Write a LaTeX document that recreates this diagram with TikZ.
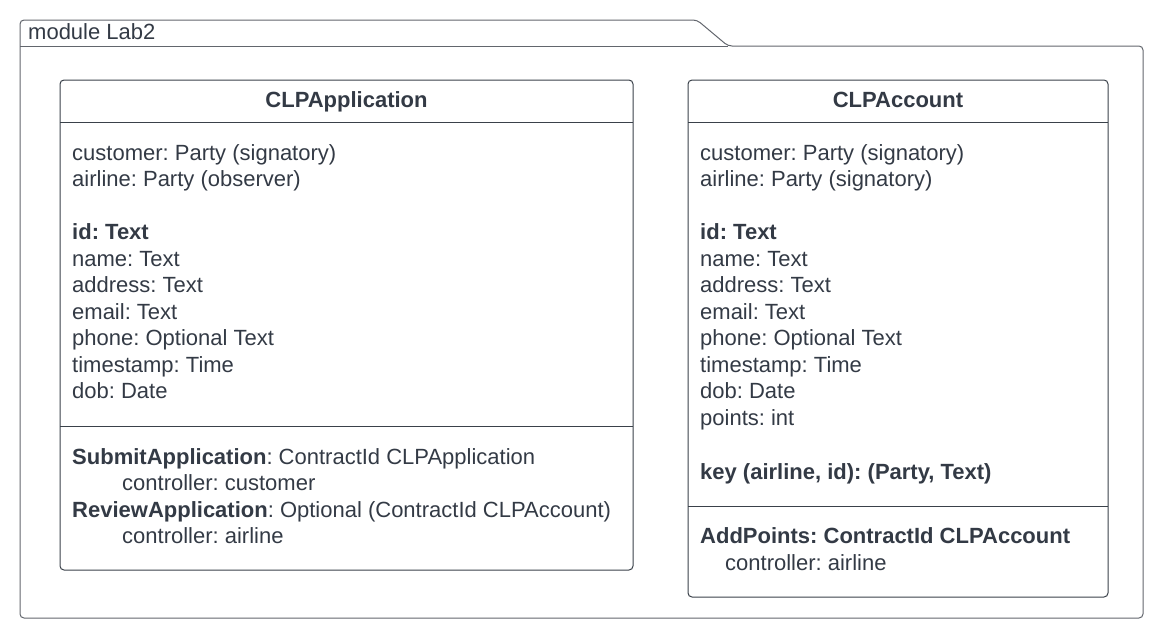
\documentclass[tikz,border=0pt]{standalone}
\usepackage{fontspec}
\setmainfont{Liberation Sans}

\definecolor{umltext}{HTML}{333A45}
\definecolor{umlline}{HTML}{3A414A}
\definecolor{umlframe}{HTML}{62666D}

\begin{document}
\frenchspacing
\begin{tikzpicture}[x=1pt,y=-1pt,
    attr/.style={anchor=base west,inner sep=0pt,text=umltext,font=\fontsize{22}{26.5}\selectfont},
    clstitle/.style={anchor=base,inner sep=0pt,text=umltext,font=\fontsize{22}{26.5}\selectfont\bfseries},
    clsbox/.style={draw=umlline,line width=1pt,rounded corners=4pt}]
        \useasboundingbox (0,0) rectangle (1163,638);

        % Module frame with its tab
        \draw[umlframe,line width=1pt,rounded corners=4pt] (20,46) -- (20,20) -- (697,20) -- (728,46)
            -- (1143,46) -- (1143,618) -- (20,618) -- cycle;
        \draw[umlframe,line width=1pt] (20,46) -- (728,46);
        \node[attr] (modname) at (28,39) {module Lab2};

        % CLPApplication: outline and compartments
        \draw[clsbox] (60,80) rectangle (633,570);
        \draw[umlline,line width=1pt] (60,122) -- (633,122);
        \draw[umlline,line width=1pt] (60,426) -- (633,426);
        \node[clstitle] (apptitle) at (346.5,107) {CLPApplication};

        % Attributes
        \node[attr] (appcust) at (72,160) {customer: Party (signatory)};
        \node[attr] (appair)  at (72,186.5) {airline: Party (observer)};
        \node[attr] (appid)   at (72,239.5) {\bfseries id: Text};
        \node[attr] (appname) at (72,266) {name: Text};
        \node[attr] (appaddr) at (72,292.5) {address: Text};
        \node[attr] (appmail) at (72,319) {email: Text};
        \node[attr] (appphone) at (72,345.5) {phone: Optional Text};
        \node[attr] (appts)   at (72,372) {timestamp: Time};
        \node[attr] (appdob)  at (72,398.5) {dob: Date};

        % Choices
        \node[attr] (submit)  at (72,464) {\textbf{SubmitApplication}: ContractId CLPApplication};
        \node[attr] (subctl)  at (122,490.5) {controller: customer};
        \node[attr] (review)  at (72,517) {\textbf{ReviewApplication}: Optional (ContractId CLPAccount)};
        \node[attr] (revctl)  at (122,543.5) {controller: airline};

        % CLPAccount: outline and compartments
        \draw[clsbox] (688,80) rectangle (1108,597);
        \draw[umlline,line width=1pt] (688,122) -- (1108,122);
        \draw[umlline,line width=1pt] (688,506) -- (1108,506);
        \node[clstitle] (acctitle) at (898,107) {CLPAccount};

        % Attributes
        \node[attr] (acccust) at (700,160) {customer: Party (signatory)};
        \node[attr] (accair)  at (700,186.5) {airline: Party (signatory)};
        \node[attr] (accid)   at (700,239.5) {\bfseries id: Text};
        \node[attr] (accname) at (700,266) {name: Text};
        \node[attr] (accaddr) at (700,292.5) {address: Text};
        \node[attr] (accmail) at (700,319) {email: Text};
        \node[attr] (accphone) at (700,345.5) {phone: Optional Text};
        \node[attr] (accts)   at (700,372) {timestamp: Time};
        \node[attr] (accdob)  at (700,398.5) {dob: Date};
        \node[attr] (accpts)  at (700,425) {points: int};
        \node[attr] (acckey)  at (700,479) {\bfseries key (airline, id): (Party, Text)};

        % Choice
        \node[attr] (addpts)  at (700,543) {\bfseries AddPoints: ContractId CLPAccount};
        \node[attr] (addctl)  at (725,570) {controller: airline};
    \end{tikzpicture}
\end{document}
